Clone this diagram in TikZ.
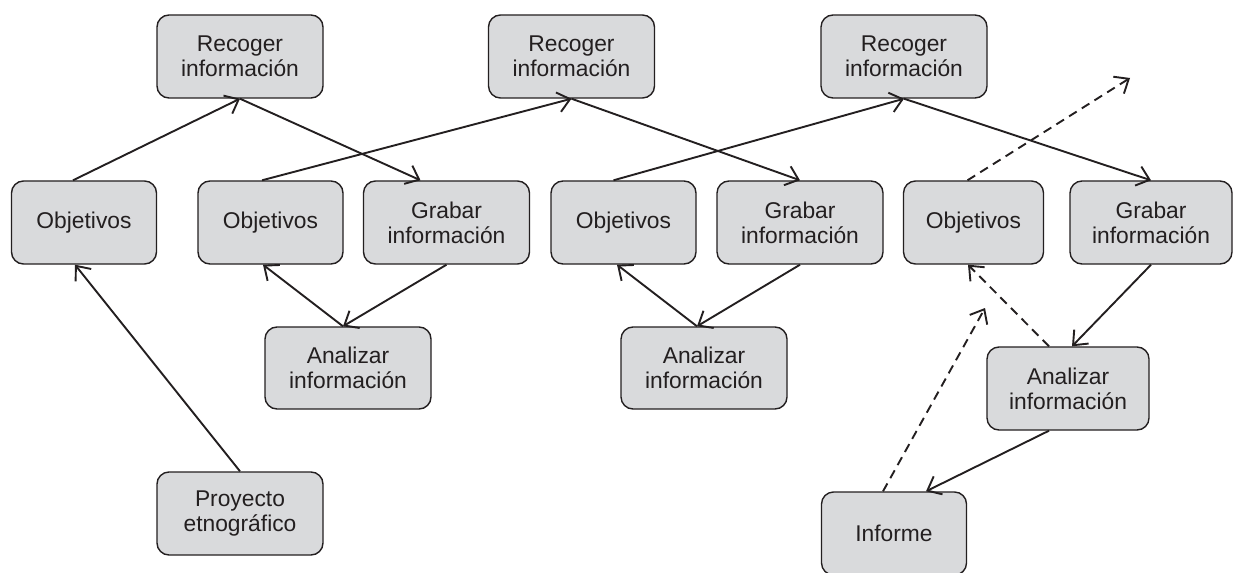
\documentclass[tikz,border=0pt]{standalone}
\usepackage{fontspec}
\setmainfont{Liberation Sans}
\usetikzlibrary{arrows.meta,calc}
\definecolor{boxfill}{RGB}{217,218,220}
\definecolor{ink}{RGB}{35,31,32}
\tikzset{
  stepbox/.style={draw=ink, fill=boxfill, line width=0.7pt, rounded corners=6pt,
    align=center, text=ink, font=\fontsize{11.4}{12.6}\selectfont, inner sep=0pt},
  wide/.style={stepbox, minimum width=83pt, minimum height=41.5pt},
  narrow/.style={stepbox, minimum width=72.5pt, minimum height=41.5pt},
  conn/.style={draw=ink, line width=0.95pt, -{Straight Barb[length=6pt,width=10pt,line width=0.95pt]}},
  dconn/.style={conn, dash pattern=on 4.5pt off 3pt}
}
\begin{document}
\begin{tikzpicture}[x=0.5pt,y=-0.5pt]
\useasboundingbox (0,0) rectangle (1234,572);
% top row
\node[wide] (rec1) at (240,56.5) {Recoger\\información};
\node[wide] (rec2) at (571.5,56.5) {Recoger\\información};
\node[wide] (rec3) at (904,56.5) {Recoger\\información};
% middle row
\node[narrow] (obj1) at (84,222.5) {Objetivos};
\node[narrow] (obj2) at (270.5,222.5) {Objetivos};
\node[wide] (gra1) at (446.5,222.5) {Grabar\\información};
\node[narrow] (obj3) at (623.5,222.5) {Objetivos};
\node[wide] (gra2) at (800,222.5) {Grabar\\información};
\node[narrow, minimum width=70pt] (obj4) at (973.5,222.5) {Objetivos};
\node[wide, minimum width=81pt] (gra3) at (1151,222.5) {Grabar\\información};
% lower rows
\node[wide, minimum height=41pt] (ana1) at (348,368) {Analizar\\información};
\node[wide, minimum height=41pt] (ana2) at (704,368) {Analizar\\información};
\node[wide, minimum width=81pt] (ana3) at (1068,388.5) {Analizar\\información};
\node[wide] (pro) at (240,513.5) {Proyecto\\etnográfico};
\node[narrow] (inf) at (894,533.5) {Informe};
% free ends
\coordinate (free1) at (1130,78);
\coordinate (free2) at (985,308);
% connectors
\draw[conn] ($(obj1.north)+(-11,0)$) -- (rec1.south);
\draw[conn] (rec1.south) -- ($(gra1.north)+(-26,0)$);
\draw[conn] ($(obj2.north)+(-8.5,0)$) -- (rec2.south);
\draw[conn] (rec2.south) -- (gra2.north);
\draw[conn] ($(obj3.north)+(-10,0)$) -- (rec3.south);
\draw[conn] (rec3.south) -- (gra3.north);
\draw[dconn] ($(obj4.north)+(-6,0)$) -- (free1);
\draw[conn] (pro.north) -- ($(obj1.south)+(-9,0)$);
\draw[conn] (gra1.south) -- ($(ana1.north)+(-5,0)$);
\draw[conn] ($(ana1.north)+(-5,0)$) -- ($(obj2.south)+(-7.5,0)$);
\draw[conn] (gra2.south) -- ($(ana2.north)+(-7,0)$);
\draw[conn] ($(ana2.north)+(-7,0)$) -- ($(obj3.south)+(-6.5,0)$);
\draw[conn] (gra3.south) -- ($(ana3.north)+(4,0)$);
\draw[dconn] ($(ana3.north)+(-19,0)$) -- ($(obj4.south)+(-5.5,0)$);
\draw[conn] ($(ana3.south)+(-19,0)$) -- ($(inf.north)+(32,0)$);
\draw[dconn] ($(inf.north)+(-11,0)$) -- (free2);
\end{tikzpicture}
\end{document}
